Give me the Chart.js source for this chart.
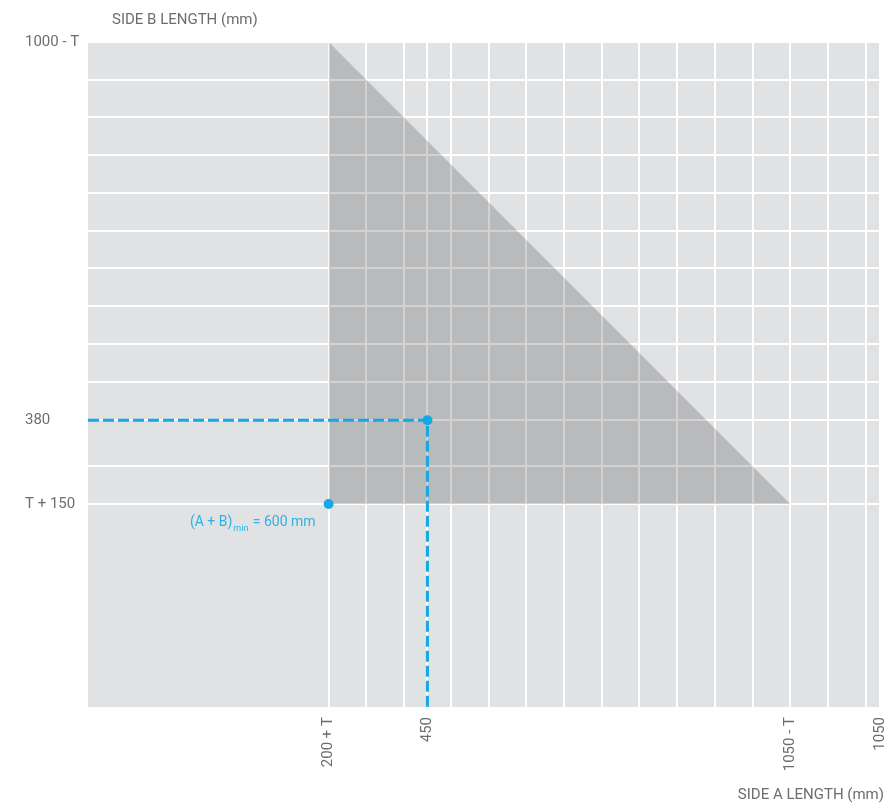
<!DOCTYPE html>
<html>
<head>
<meta charset="utf-8">
<script src="https://cdn.jsdelivr.net/npm/chart.js@4"></script>
<style>
  html, body { margin: 0; padding: 0; background: #fff; }
  #wrap { width: 887px; height: 805px; }
</style>
</head>
<body>
<div id="wrap"><canvas id="chart" width="887" height="805"></canvas></div>
<script>
// thickness T (mm)
const T = 119;

// x axis: side A length
const xTickValues = [200 + T, 250 + T, 300 + T, 450, 600 - T, 650 - T, 700 - T, 750 - T, 800 - T,
                     850 - T, 900 - T, 950 - T, 1000 - T, 1050 - T, 1100 - T, 1150 - T, 1050];
const xTickLabels = ['200 + T', '', '', '450', '', '', '', '', '',
                     '', '', '', '', '1050 - T', '', '', '1050'];

// y axis: side B length
const yTickValues = [T + 150, T + 200, 380, 550 - T, 600 - T, 650 - T, 700 - T, 750 - T,
                     800 - T, 850 - T, 900 - T, 950 - T, 1000 - T];
const yTickLabels = ['T + 150', '', '380', '', '', '', '', '', '', '', '', '', '1000 - T'];

// allowed region edge (A + B = const) and its base
const regionEdge = [{x: 200 + T, y: 1000 - T}, {x: 1050 - T, y: T + 150}];
const regionBase = T + 150;

// example point A = 450, B = 380
const examplePath = [{x: 0, y: 380}, {x: 450, y: 380}, {x: 450, y: 0}];
const minPoint = [{x: 200 + T, y: T + 150}];

const blue = '#12a9e5';
const textGrey = '#6d6d6d';
const font = "Roboto, 'DejaVu Sans', sans-serif";

const extras = {
  id: 'extras',
  beforeDraw(chart) {
    const {ctx, chartArea: a} = chart;
    ctx.save();
    ctx.fillStyle = '#e1e2e4';
    ctx.fillRect(a.left, a.top, a.right - a.left, a.bottom - a.top);
    ctx.restore();
  },
  afterDraw(chart) {
    const {ctx, scales} = chart;
    ctx.save();
    ctx.fillStyle = textGrey;
    ctx.font = '15px ' + font;
    ctx.textBaseline = 'middle';
    ctx.textAlign = 'left';
    ctx.fillText('SIDE B LENGTH (mm)', 112, 20);
    ctx.textAlign = 'right';
    ctx.fillText('SIDE A LENGTH (mm)', 884, 795);

    // (A + B)min label next to the minimum point
    const px = scales.x.getPixelForValue(minPoint[0].x) - 13;
    const py = scales.y.getPixelForValue(minPoint[0].y) + 19;
    ctx.fillStyle = '#2cb2e6';
    ctx.textAlign = 'left';
    const big = '14px ' + font, small = '9px ' + font;
    ctx.font = big;
    const w1 = ctx.measureText('(A + B)').width;
    const w3 = ctx.measureText(' = 600 mm').width;
    ctx.font = small;
    const w2 = ctx.measureText('min').width;
    let x = px - (w1 + w2 + w3 + 2);
    ctx.font = big;
    ctx.fillText('(A + B)', x, py);
    x += w1 + 1;
    ctx.font = small;
    ctx.fillText('min', x, py + 6);
    x += w2 + 1;
    ctx.font = big;
    ctx.fillText(' = 600 mm', x, py);
    ctx.restore();
  }
};

new Chart(document.getElementById('chart'), {
  type: 'scatter',
  data: {
    datasets: [
      {
        data: regionEdge,
        order: 2,
        showLine: true,
        borderWidth: 0,
        borderColor: 'rgba(0,0,0,0)',
        backgroundColor: 'rgba(0,0,0,0.175)',
        fill: {value: regionBase},
        pointRadius: 0
      },
      {
        data: examplePath,
        order: 1,
        showLine: true,
        borderColor: blue,
        borderWidth: 3,
        borderDash: [11, 4],
        fill: false,
        pointRadius: [0, 5, 0],
        pointBackgroundColor: blue,
        pointBorderWidth: 0
      },
      {
        data: minPoint,
        order: 0,
        pointRadius: 5,
        pointBackgroundColor: blue,
        pointBorderWidth: 0
      }
    ]
  },
  options: {
    responsive: false,
    animation: false,
    layout: {padding: {left: 25, right: 7, top: 42, bottom: 0}},
    plugins: {legend: {display: false}, tooltip: {enabled: false}},
    scales: {
      x: {
        type: 'linear',
        min: 0,
        max: 1050,
        afterBuildTicks: scale => { scale.ticks = xTickValues.map(v => ({value: v})); },
        afterFit: scale => {
          scale.height = 98;
          scale.paddingLeft = 0;
          scale.paddingRight = 0;
        },
        grid: {color: '#ffffff', lineWidth: 2, drawTicks: false},
        border: {display: false},
        ticks: {
          autoSkip: false,
          minRotation: 90,
          maxRotation: 90,
          padding: 10,
          color: textGrey,
          font: {family: font, size: 15},
          callback: (v, i) => xTickLabels[i]
        }
      },
      y: {
        type: 'linear',
        min: 0,
        max: 1000 - T,
        afterBuildTicks: scale => { scale.ticks = yTickValues.map(v => ({value: v})); },
        afterFit: scale => {
          scale.width = 63;
          scale.paddingTop = 0;
          scale.paddingBottom = 0;
        },
        grid: {color: '#ffffff', lineWidth: 2, drawTicks: false},
        border: {display: false},
        ticks: {
          autoSkip: false,
          crossAlign: 'far',
          color: textGrey,
          font: {family: font, size: 15},
          callback: (v, i) => yTickLabels[i]
        }
      }
    }
  },
  plugins: [extras]
});
</script>
</body>
</html>
